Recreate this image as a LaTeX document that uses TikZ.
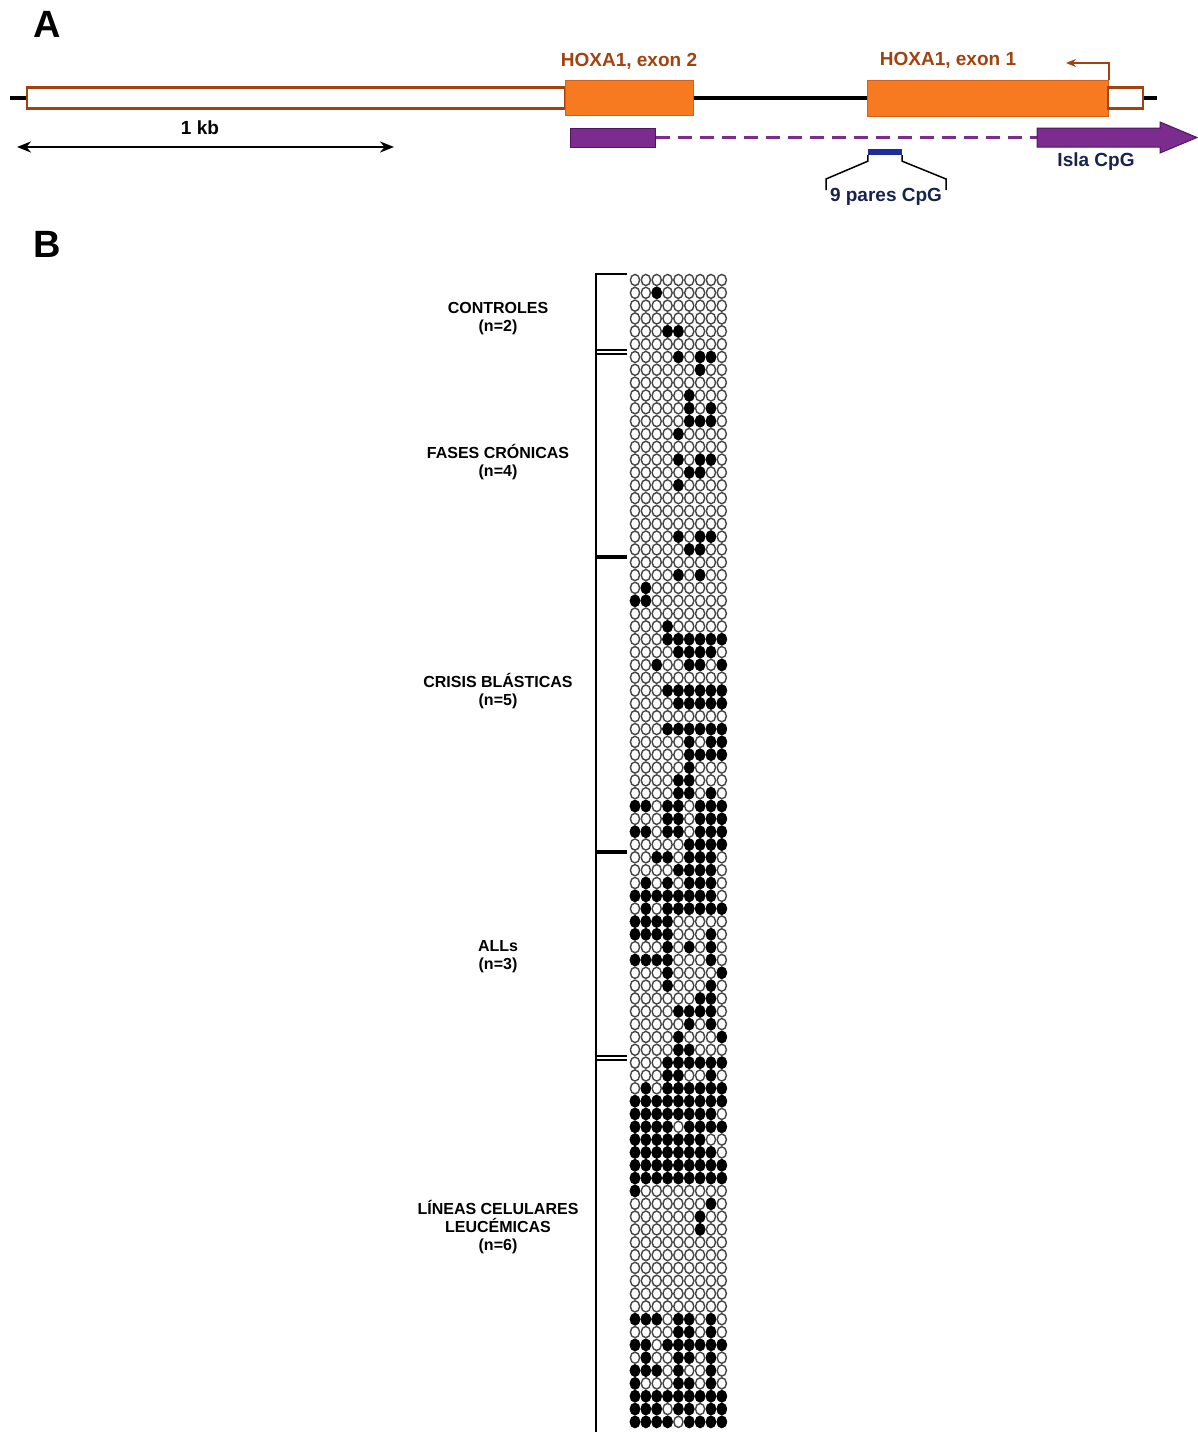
\documentclass[tikz,border=0pt]{standalone}
\usepackage{fontspec}
\setmainfont{Liberation Sans}
\usetikzlibrary{arrows.meta}
\definecolor{Exon}{HTML}{F87A20}
\definecolor{ExonEdge}{HTML}{D0601C}
\definecolor{Rust}{HTML}{A3410F}
\definecolor{Isle}{HTML}{7B2C8E}
\definecolor{IsleEdge}{HTML}{4F1760}
\definecolor{Navy}{HTML}{18224F}
\definecolor{Site}{HTML}{1C2C9C}
\definecolor{Ring}{HTML}{454545}

\begin{document}
\begin{tikzpicture}[
  x=1pt, y=-1pt,
  exon/.style={draw=ExonEdge, fill=Exon, line width=1pt, inner sep=0pt},
  utr/.style={draw=Rust, fill=white, line width=2.4pt, inner sep=0pt, minimum height=21pt},
  genelabel/.style={text=Rust, font=\bfseries\fontsize{19}{21}\selectfont},
  cpglabel/.style={text=Navy, font=\bfseries\fontsize{19}{21}\selectfont},
  panel/.style={font=\bfseries\fontsize{38}{40}\selectfont},
  group/.style={font=\bfseries\fontsize{16}{18}\selectfont, align=center},
  isle/.style={draw=IsleEdge, fill=Isle, line width=1pt},
  bracket/.style={line width=2.5pt},
  unmeth/.style={draw=Ring, fill=white, line width=1.4pt},
  meth/.style={draw=black, fill=black, line width=1.4pt}
]
\useasboundingbox (0,0) rectangle (1197,1432);

% panel A: gene
\node[panel] (A) at (47,24) {A};
\coordinate (g0) at (10,98);
\coordinate (g1) at (1157,98);
\draw[line width=3.5pt] (g0) -- (g1);
\node[utr, minimum width=538pt] (utr2) at (296,98) {};
\node[exon, minimum width=128pt, minimum height=35pt] (ex2) at (629,97.5) {};
\node[exon, minimum width=241pt, minimum height=36pt] (ex1) at (987.5,98) {};
\node[utr, minimum width=35pt] (utr1) at (1125.5,98) {};
\node[genelabel] (lab2) at (629,61) {HOXA1, exon 2};
\node[genelabel] (lab1) at (948,60) {HOXA1, exon 1};
\coordinate (tss) at (1066,63);
\draw[Rust, line width=2pt, -{Stealth[length=10pt,width=8pt]}] (ex1.north east) |- (tss);

% scale
\coordinate (kb0) at (17,147);
\coordinate (kb1) at (394,147);
\draw[line width=2.6pt, {Stealth[length=14pt,width=11pt]}-{Stealth[length=14pt,width=11pt]}] (kb0) -- (kb1);
\node[font=\bfseries\fontsize{19}{21}\selectfont] (kb) at (200,128) {1 kb};

% CpG island
\node[isle, minimum width=85pt, minimum height=19pt, inner sep=0pt] (isl0) at (612.5,137.5) {};
\coordinate (isl1) at (1037,137.5);
\draw[Isle, line width=2.4pt, dash pattern=on 14pt off 8pt] (isl0.east) -- (isl1);
\draw[isle] (1037,128) -- (1160,128) -- (1160,122) -- (1197,137.5) -- (1160,153) -- (1160,147) -- (1037,147) -- cycle;
\node[cpglabel] (isla) at (1096,162) {Isla CpG};
\node[fill=Site, minimum width=34pt, minimum height=6pt, inner sep=0pt] (site) at (885,152) {};
\node[cpglabel] (pairs) at (886,197) {9 pares CpG};
\draw[line width=1.5pt] (site.south west) -- ++(0,6) -- (826,179) -- (826,190);
\draw[line width=1.5pt] (site.south east) -- ++(0,6) -- (946,179) -- (946,190);

% panel B: groups
\node[panel] (B) at (47,244) {B};
\node[group] (ctrl) at (498,319) {CONTROLES\\(n=2)};
\node[group] (chron) at (498,462) {FASES CRÓNICAS\\(n=4)};
\node[group] (blast) at (498,691) {CRISIS BLÁSTICAS\\(n=5)};
\node[group] (all) at (498,957) {ALLs\\(n=3)};
\node[group] (cells) at (498,1227) {LÍNEAS CELULARES\\LEUCÉMICAS\\(n=6)};

\draw[bracket] (627,274) -- (596,274) -- (596,1432);
\foreach \yy in {350,354,1056,1060}
  \draw[line width=1.6pt] (596,\yy) -- (627,\yy);
\foreach \yy in {557,852}
  \draw[line width=4pt] (596,\yy) -- (627,\yy);

% CpG sites, one row per clone
\foreach \r in {0,...,89}
  \foreach \c in {1,...,9}
    \draw[unmeth] ({624.15+10.85*\c},{280+12.83*\r}) ellipse [x radius=4.6pt, y radius=5.6pt];
\foreach \r/\cs in {1/{3},4/{4,5},6/{5,7,8},7/{7},9/{6},10/{6,8},11/{6,7,8},12/{5},
    14/{5,7,8},15/{6,7},16/{5},20/{5,7,8},21/{6,7},23/{5,7},24/{2},25/{1,2},27/{4},
    28/{4,...,9},29/{5,...,8},30/{3,6,7,9},32/{4,...,9},33/{5,...,9},35/{4,...,9},
    36/{6,8,9},37/{6,...,9},38/{6},39/{5,6},40/{5,6,8},41/{1,2,4,5,7,8,9},
    42/{4,5,7,8,9},43/{1,2,4,5,7,8,9},44/{6,...,9},45/{3,4,6,7,8},46/{5,...,8},
    47/{2,4,6,7,8},48/{1,...,8},49/{2,4,5,6,7,8,9},50/{1,...,4},51/{1,2,3,4,8},
    52/{4,6,8},53/{1,2,3,4,8},54/{4,9},55/{4,8},56/{7,8},57/{5,...,8},58/{6,8},
    59/{5,9},60/{5,6},61/{4,...,9},62/{4,5,8},63/{2,4,5,6,7,8,9},64/{1,...,9},
    65/{1,...,8},66/{1,2,3,4,6,7,8,9},67/{1,...,7},68/{1,...,8},69/{1,...,9},
    70/{1,...,9},71/{1},72/{8},73/{7},74/{7},81/{1,2,3,5,6,8},82/{5,6,8},
    83/{1,2,4,5,6,7,8,9},84/{2,5,6,8},85/{1,2,3,5,8},86/{1,5,6,8},87/{1,...,9},
    88/{1,2,3,5,6,8,9},89/{1,2,3,4,6,7,8,9}}
  \foreach \c in \cs
    \draw[meth] ({624.15+10.85*\c},{280+12.83*\r}) ellipse [x radius=4.6pt, y radius=5.6pt];
\end{tikzpicture}
\end{document}
